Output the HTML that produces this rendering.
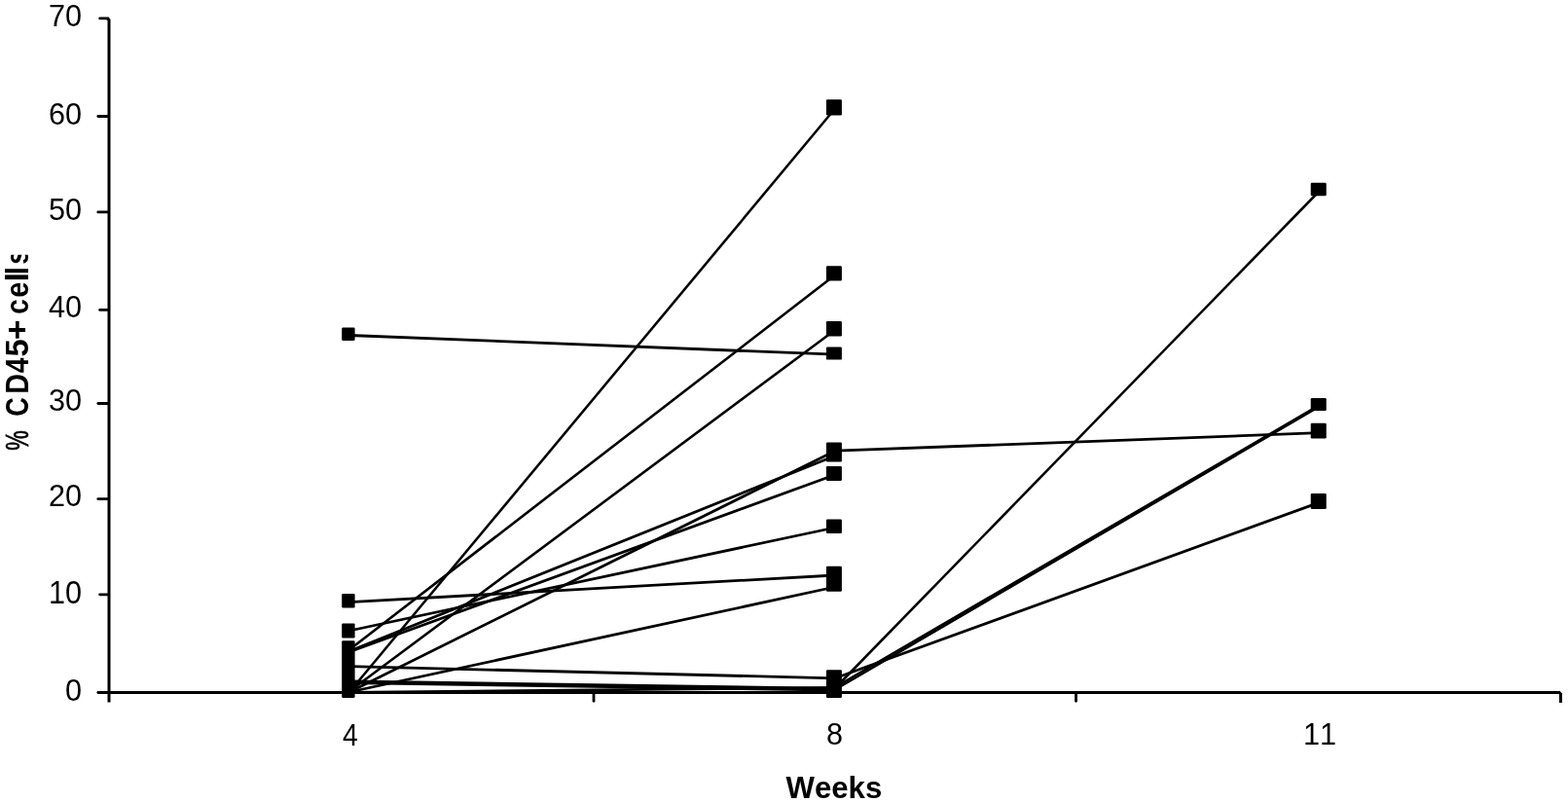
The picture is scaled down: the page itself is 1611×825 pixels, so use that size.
<!DOCTYPE html>
<html lang="en"><head><meta charset="utf-8"><title>% CD45+ cells by weeks</title>
<style>
html,body{margin:0;padding:0;background:#fff;}
body{width:1611px;height:825px;overflow:hidden;}
svg{display:block;}
text{font-family:"Liberation Sans",sans-serif;fill:#000;white-space:pre;font-kerning:none;}
.b{font-weight:bold;}
.ln{stroke:#000;fill:none;stroke-linecap:butt;}
.ax{stroke:#000;stroke-width:3;fill:none;}
.tk{stroke:#000;stroke-width:2.8;fill:none;stroke-linecap:round;}
</style></head><body>
<svg width="1611" height="825" viewBox="0 0 1611 825">
<defs><clipPath id="ytc"><rect x="0" y="261.8" width="40" height="220"/></clipPath></defs>
<rect x="0" y="0" width="1611" height="825" fill="#fff"/>
<g class="ax">
<path d="M112.0 721.6 V20.5 L110.2 18.9"/>
<path d="M100 711.40 H1602 L1603.5 713 V722"/>
</g>
<g class="tk">
<line x1="102.6" y1="18.90" x2="111.0" y2="18.90"/>
<line x1="100.8" y1="119.50" x2="111.0" y2="119.50"/>
<line x1="100.8" y1="217.90" x2="111.0" y2="217.90"/>
<line x1="102.6" y1="318.40" x2="111.0" y2="318.40"/>
<line x1="100.8" y1="414.50" x2="111.0" y2="414.50"/>
<line x1="100.8" y1="512.60" x2="111.0" y2="512.60"/>
<line x1="102.6" y1="610.80" x2="111.0" y2="610.80"/>
<line x1="100.8" y1="711.45" x2="111.0" y2="711.45"/>
<line x1="610.0" y1="711.4" x2="610.0" y2="720.3"/>
<line x1="1105.5" y1="711.4" x2="1105.5" y2="720.3"/>
</g>
<g class="ln">
<line x1="359.0" y1="344.5" x2="858.0" y2="364.2" stroke-width="2.80"/>
<line x1="359.0" y1="618.6" x2="858.0" y2="591.0" stroke-width="2.80"/>
<line x1="359.0" y1="648.0" x2="858.0" y2="542.0" stroke-width="2.80"/>
<line x1="359.0" y1="667.5" x2="858.0" y2="282.5" stroke-width="2.60"/>
<line x1="359.0" y1="669.0" x2="858.0" y2="468.2" stroke-width="2.80"/>
<line x1="359.0" y1="669.8" x2="858.0" y2="487.7" stroke-width="2.80"/>
<line x1="359.0" y1="684.6" x2="858.0" y2="696.8" stroke-width="2.80"/>
<line x1="359.0" y1="711.0" x2="858.0" y2="111.5" stroke-width="2.55"/>
<line x1="359.0" y1="710.2" x2="858.0" y2="339.0" stroke-width="2.60"/>
<line x1="359.0" y1="711.0" x2="858.0" y2="463.2" stroke-width="2.80"/>
<line x1="359.0" y1="711.0" x2="858.0" y2="603.0" stroke-width="2.80"/>
<line x1="359.0" y1="699.8" x2="858.0" y2="707.4" stroke-width="2.80"/>
<line x1="359.0" y1="701.6" x2="858.0" y2="709.0" stroke-width="2.80"/>
<line x1="359.0" y1="711.4" x2="858.0" y2="706.5" stroke-width="2.80"/>
<line x1="858.0" y1="463.2" x2="1355.8" y2="444.7" stroke-width="2.80"/>
<line x1="858.0" y1="707.0" x2="1355.8" y2="196.0" stroke-width="2.55"/>
<line x1="858.0" y1="706.0" x2="1355.8" y2="416.2" stroke-width="2.60"/>
<line x1="858.0" y1="708.5" x2="1355.8" y2="417.4" stroke-width="2.60"/>
<line x1="858.0" y1="696.8" x2="1355.8" y2="516.1" stroke-width="2.80"/>
</g>
<g fill="#000">
<rect x="351.2" y="336.5" width="13.4" height="13.5" rx="1.2"/>
<rect x="351.2" y="610.0" width="13.4" height="14.5" rx="1.2"/>
<rect x="351.2" y="640.5" width="13.4" height="15.0" rx="1.2"/>
<rect x="351.2" y="658.2" width="13.4" height="58.8" rx="1.2"/>
<rect x="848.9" y="102.2" width="16.0" height="16.3" rx="1.2"/>
<rect x="848.9" y="273.3" width="16.0" height="15.2" rx="1.2"/>
<rect x="848.9" y="330.0" width="16.0" height="15.5" rx="1.2"/>
<rect x="848.9" y="356.4" width="16.0" height="13.2" rx="1.2"/>
<rect x="848.9" y="454.5" width="16.0" height="20.0" rx="1.2"/>
<rect x="848.9" y="479.0" width="16.0" height="15.0" rx="1.2"/>
<rect x="848.9" y="533.6" width="16.0" height="14.4" rx="1.2"/>
<rect x="848.9" y="581.8" width="16.0" height="26.0" rx="1.2"/>
<rect x="848.9" y="688.3" width="16.0" height="28.7" rx="1.2"/>
<rect x="1346.7" y="187.8" width="16.0" height="13.5" rx="1.2"/>
<rect x="1346.7" y="409.0" width="16.0" height="13.0" rx="1.2"/>
<rect x="1346.7" y="434.8" width="16.0" height="15.7" rx="1.2"/>
<rect x="1346.7" y="506.9" width="16.0" height="16.0" rx="1.2"/>
</g>
<g>
<text class="" font-size="30.60" transform="matrix(1.0000 0 0 1.0300 49.96 26.50)">70</text>
<text class="" font-size="30.60" transform="matrix(1.0000 0 0 1.0500 49.96 127.50)">60</text>
<text class="" font-size="30.60" transform="matrix(1.0000 0 0 1.0450 49.96 225.50)">50</text>
<text class="" font-size="30.60" transform="matrix(1.0000 0 0 1.0300 49.96 325.70)">40</text>
<text class="" font-size="30.60" transform="matrix(1.0000 0 0 1.0200 49.96 421.70)">30</text>
<text class="" font-size="30.60" transform="matrix(1.0000 0 0 1.0450 49.96 520.30)">20</text>
<text class="" font-size="30.60" transform="matrix(1.0000 0 0 1.0900 49.96 619.50)">10</text>
<text class="" font-size="30.60" transform="matrix(1.0000 0 0 1.0500 66.98 719.50)">0</text>
</g>
<g>
<text class="" font-size="30.60" transform="matrix(0.9300 0 0 1.0400 351.88 765.50)">4</text>
<text class="" font-size="30.60" transform="matrix(1.0000 0 0 1.0400 849.09 765.30)">8</text>
<text class="" font-size="30.60" transform="matrix(1.0000 0 0 1.0400 1339.06 765.20)">11</text>
</g>
<text class="b" font-size="31.15" transform="matrix(1.0000 0 0 1.0000 807.57 819.80)">Weeks</text>
<g clip-path="url(#ytc)"><text class="b" font-size="33.0" transform="translate(28.60 470.00) rotate(-90)"><tspan x="7.28" textLength="20.55" lengthAdjust="spacingAndGlyphs" font-weight="normal" stroke="#000" stroke-width="0.7">%</tspan> <tspan x="42.29" textLength="19.55" lengthAdjust="spacingAndGlyphs">C</tspan><tspan x="65.37" textLength="20.84" lengthAdjust="spacingAndGlyphs">D</tspan><tspan x="86.67" textLength="15.78" lengthAdjust="spacingAndGlyphs">4</tspan><tspan x="103.50" textLength="18.11" lengthAdjust="spacingAndGlyphs">5</tspan><tspan x="120.72" textLength="20.61" lengthAdjust="spacingAndGlyphs">+</tspan> <tspan x="147.21" textLength="15.51" lengthAdjust="spacingAndGlyphs">c</tspan><tspan x="164.17" textLength="16.12" lengthAdjust="spacingAndGlyphs">e</tspan><tspan x="180.61" textLength="9.52" lengthAdjust="spacingAndGlyphs">l</tspan><tspan x="187.86" textLength="8.10" lengthAdjust="spacingAndGlyphs">l</tspan><tspan x="198.21" textLength="15.64" lengthAdjust="spacingAndGlyphs">s</tspan></text></g>
</svg>
</body></html>
